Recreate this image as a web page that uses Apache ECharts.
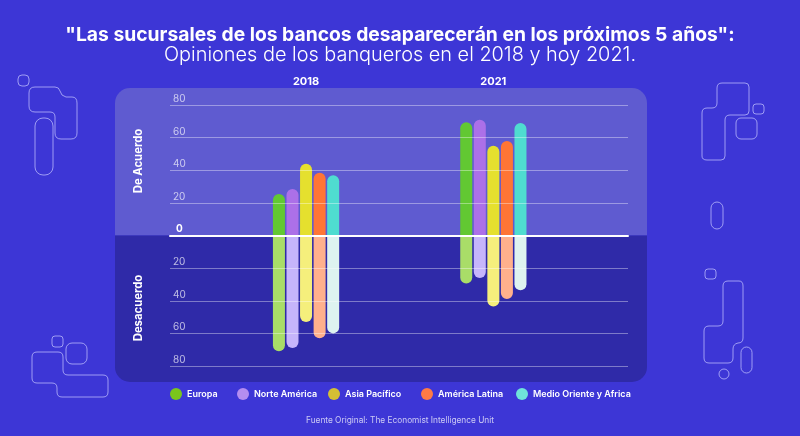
<!DOCTYPE html>
<html>
<head>
<meta charset="utf-8">
<style>
  html, body { margin: 0; padding: 0; background: #3d36d6; }
  #chart { width: 800px; height: 436px; }
</style>
<script src="https://cdn.jsdelivr.net/npm/echarts@6/dist/echarts.min.js"></script>
</head>
<body>
<div id="chart"></div>
<script>
const years = ['2018', '2021'];
const regions = ['Europa', 'Norte América', 'Asia Pacífico', 'América Latina', 'Medio Oriente y Africa'];

// % de acuerdo / desacuerdo por region: [2018, 2021]
const agreeEuropa = [25.5, 69.5];
const agreeNorte = [28.5, 71];
const agreeAsia = [44, 55];
const agreeLatina = [38.5, 58];
const agreeMedio = [37, 69];
const disagreeEuropa = [-71, -29.5];
const disagreeNorte = [-69, -26];
const disagreeAsia = [-53, -43.5];
const disagreeLatina = [-63, -39];
const disagreeMedio = [-60, -33.5];

const agree = [agreeEuropa, agreeNorte, agreeAsia, agreeLatina, agreeMedio];
const disagree = [disagreeEuropa, disagreeNorte, disagreeAsia, disagreeLatina, disagreeMedio];

const topColors = ['#62c832', '#ac70e8', '#e5e02e', '#ff7535', '#4fdcd0'];
const lowColors = ['#a9dd68', '#c6b5fb', '#f5ef7c', '#ffb08c', '#def3f0'];
const legendColors = ['#7ac51c', '#b48df0', '#d4bf35', '#ff7a45', '#6fe3da'];
const legendLeft = [170, 237, 328, 421, 516];

const outline = { fill: 'none', stroke: 'rgba(195,195,255,0.72)', lineWidth: 1 };
const box = (x, y, width, height, r) => ({
  type: 'rect', silent: true, shape: { x, y, width, height, r }, style: outline
});
const sideText = (text, x, y) => ({
  type: 'text', silent: true, x, y, rotation: Math.PI / 2,
  style: { text, fill: '#fff', font: '700 11.3px Inter', align: 'center', verticalAlign: 'middle' }
});

// decorative outlines in the page margins
const doodles = [
  'M35 87 H55 Q59 87 60 91 Q61 96 66 97 H72 Q77 97 77 103 V133 Q77 139 71 139 H61 Q55 139 55 133 V117 Q55 112 50 112 H35 Q29 112 29 106 V93 Q29 87 35 87Z',
  'M722 83 H745 Q749 83 749 87 V111 Q749 115 745 115 H730 Q725 115 725 120 V156 Q725 160 721 160 H707 Q702 160 702 156 V113 Q702 108 707 108 H712 Q717 108 717 103 V88 Q717 83 722 83Z',
  'M728 281 H739 Q743 281 743 286 V338 Q743 343 738 343 Q733 344 733 349 V358 Q733 363 728 363 H709 Q704 363 704 358 V331 Q704 326 709 326 H718 Q723 326 723 321 V286 Q723 281 728 281Z',
  'M37 352 H58 Q63 352 63 357 V370 Q63 375 68 375 H103 Q108 375 108 380 V392 Q108 397 103 397 H62 Q57 397 57 392 V388 Q57 383 52 383 H37 Q32 383 32 378 V357 Q32 352 37 352Z'
];

const series = [];
regions.forEach((name, i) => {
  series.push({
    name, type: 'bar', xAxisIndex: 1, yAxisIndex: 1, stack: name,
    barWidth: 12, barGap: '13%', data: agree[i],
    itemStyle: { color: topColors[i], borderRadius: [6, 6, 0, 0] }
  });
  series.push({
    name, type: 'bar', xAxisIndex: 1, yAxisIndex: 1, stack: name,
    barWidth: 12, barGap: '13%', data: disagree[i],
    itemStyle: { color: lowColors[i], borderRadius: [0, 0, 6, 6] }
  });
});
series.push({
  type: 'custom', coordinateSystem: 'none', silent: true, data: [0], z: 0,
  renderItem: () => ({
    type: 'group',
    children: doodles.map((pathData) => ({ type: 'path', shape: { pathData }, style: outline }))
  })
});

const chart = echarts.init(document.getElementById('chart'));
chart.setOption({
  backgroundColor: '#3d36d6',
  animation: false,
  title: [
    {
      text: '"Las sucursales de los bancos desaparecerán en los próximos 5 años":',
      left: 'center', top: 21,
      textStyle: { color: '#fff', fontFamily: 'Inter', fontWeight: 700, fontSize: 19.3 }
    },
    {
      text: 'Opiniones de los banqueros en el 2018 y hoy 2021.',
      left: 'center', top: 40,
      textStyle: { color: '#fff', fontFamily: 'Inter', fontWeight: 300, fontSize: 19.9 }
    },
    {
      text: 'Fuente Original: The Economist Intelligence Unit',
      left: 'center', top: 412,
      textStyle: { color: 'rgba(255,255,255,0.72)', fontFamily: 'Inter', fontWeight: 400, fontSize: 8.3 }
    }
  ],
  legend: regions.map((name, i) => ({
    left: legendLeft[i], top: 388, padding: 0,
    data: [{ name, itemStyle: { color: legendColors[i] } }],
    icon: 'circle', itemWidth: 12, itemHeight: 12, itemGap: 0,
    textStyle: { color: '#fff', fontFamily: 'Inter', fontWeight: 600, fontSize: 9 }
  })),
  grid: [
    { left: 170, width: 458, top: 105, height: 261 },
    { left: 212.4, width: 374.6, top: 105, height: 261 }
  ],
  xAxis: [
    {
      gridIndex: 0, type: 'category', data: [''], z: 6,
      axisLine: { onZero: true, lineStyle: { color: '#fff', width: 2 } },
      axisTick: { show: false }, axisLabel: { show: false }
    },
    {
      gridIndex: 1, type: 'category', data: years, position: 'top',
      axisLine: { show: false }, axisTick: { show: false },
      axisLabel: { color: '#fff', fontFamily: 'Inter', fontWeight: 700, fontSize: 11, margin: 18 }
    }
  ],
  yAxis: [
    {
      gridIndex: 0, type: 'value', min: -80, max: 80, interval: 20, z: 5,
      axisLine: { show: false }, axisTick: { show: false },
      splitLine: { lineStyle: { color: 'rgba(255,255,255,0.38)', width: 1 } },
      axisLabel: {
        inside: true, margin: 3, verticalAlign: 'bottom', padding: [0, 0, 1, 0],
        color: 'rgba(255,255,255,0.68)', fontFamily: 'Inter', fontSize: 10,
        formatter: (v) => v === 0 ? '{zero|0}' : String(Math.abs(v)),
        rich: { zero: { color: '#fff', fontFamily: 'Inter', fontWeight: 700, fontSize: 10, padding: [0, 0, 1, 3] } }
      }
    },
    {
      gridIndex: 1, type: 'value', min: -80, max: 80, interval: 20, show: false,
      splitLine: { show: false }
    }
  ],
  series,
  graphic: { elements: [
    { type: 'rect', silent: true, z: -10, shape: { x: 115, y: 88, width: 532, height: 147.5, r: [15, 15, 0, 0] }, style: { fill: '#5f5bd0' } },
    { type: 'rect', silent: true, z: -10, shape: { x: 115, y: 235.5, width: 532, height: 146.5, r: [0, 0, 15, 15] }, style: { fill: '#2f2aa8' } },
    sideText('De Acuerdo', 139, 161),
    sideText('Desacuerdo', 139, 308),
    box(18, 75, 11, 11, 4),
    box(35, 118, 18, 57, 8),
    box(753, 104, 11, 10, 3),
    box(736, 118, 21, 21, 5),
    box(711, 202, 12, 27, 6),
    box(705, 269, 11, 10, 3),
    box(741, 347, 11, 26, 5.5),
    box(719, 369, 10, 10, 5),
    box(52, 336, 11, 11, 3),
    box(66, 343, 21, 21, 6)
  ] }
});
</script>
</body>
</html>
